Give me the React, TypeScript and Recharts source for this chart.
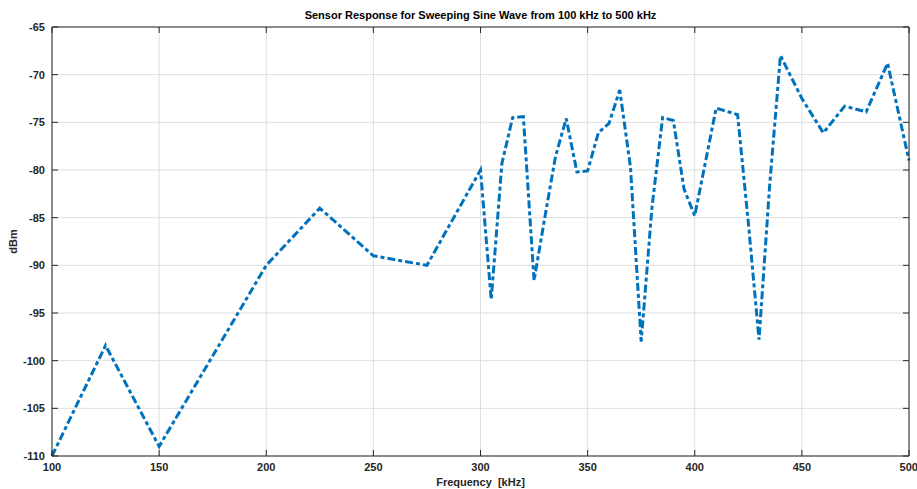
import React from 'react';
import { LineChart, Line, XAxis, YAxis, CartesianGrid, Label } from 'recharts';

// sweep frequencies (kHz) and measured response (dBm)
const frequencies = [
  100, 125, 150, 200, 225, 250, 275, 300, 305, 310, 315, 320, 325, 330, 335, 340, 345, 350, 355, 360,
  365, 370, 375, 380, 385, 390, 395, 400, 410, 420, 425, 430, 435, 440, 450, 460, 470, 480, 490, 500,
];
const responseDbm = [
  -110, -98.4, -109, -90, -84, -89, -90, -80, -93.6, -79.3, -74.5, -74.4, -91.6, -85, -78.6, -74.6, -80.2, -80.1, -76.1, -75.1,
  -71.6, -79.7, -98, -84, -74.5, -74.8, -82, -84.8, -73.5, -74.2, -85.5, -97.8, -81.5, -68, -72.5, -76.1, -73.3, -73.9, -68.8, -79,
];
const xTicks = [100, 150, 200, 250, 300, 350, 400, 450, 500];
const yTicks = [-110, -105, -100, -95, -90, -85, -80, -75, -70, -65];

const data = frequencies.map((f, i) => ({ freq: f, dbm: responseDbm[i] }));

const FONT = '"Liberation Sans", Arial, Helvetica, sans-serif';
const AXIS = '#262626';
const tickStyle = { fontSize: 11, fontWeight: 700, fill: AXIS, fontFamily: FONT };
// tick={false} would also drop the tick lines, so the box axes get an empty label instead
const NoLabel = () => <g />;

const App: React.FC = () => {
  return (
    <div style={{ position: 'absolute', left: 0, top: 0, width: 917, height: 489, background: '#fff' }}>
      <div
        style={{
          position: 'absolute',
          left: 52,
          width: 857,
          top: 9,
          textAlign: 'center',
          fontFamily: FONT,
          fontWeight: 700,
          fontSize: 11,
          color: '#000',
        }}
      >
        Sensor Response for Sweeping Sine Wave from 100 kHz to 500 kHz
      </div>
      <LineChart width={917} height={489} data={data} margin={{ top: 27, right: 8, bottom: 0, left: 0 }}>
        <CartesianGrid stroke="#dedede" strokeWidth={1} />
        {/* inward tick marks + box, MATLAB style */}
        <XAxis
          xAxisId="bottomTicks"
          dataKey="freq"
          type="number"
          domain={[100, 500]}
          ticks={xTicks}
          orientation="bottom"
          mirror
          height={1}
          tick={NoLabel}
          tickSize={6}
          axisLine={false}
          tickLine={{ stroke: AXIS }}
        />
        <XAxis
          xAxisId="top"
          dataKey="freq"
          type="number"
          domain={[100, 500]}
          ticks={xTicks}
          orientation="top"
          mirror
          height={1}
          tick={NoLabel}
          tickSize={6}
          axisLine={{ stroke: AXIS }}
          tickLine={{ stroke: AXIS }}
        />
        <XAxis
          dataKey="freq"
          type="number"
          domain={[100, 500]}
          ticks={xTicks}
          height={33}
          tickLine={false}
          tickSize={0}
          tickMargin={7}
          tick={tickStyle}
          axisLine={{ stroke: AXIS }}
        >
          <Label
            content={({ viewBox }: any) => (
              <text
                x={viewBox.x + viewBox.width / 2}
                y={viewBox.y + 30}
                textAnchor="middle"
                style={{ fontSize: 11, fontWeight: 700, fontFamily: FONT, fill: AXIS, whiteSpace: 'pre' }}
              >
                Frequency  [kHz]
              </text>
            )}
          />
        </XAxis>
        <YAxis
          yAxisId="leftTicks"
          type="number"
          domain={[-110, -65]}
          ticks={yTicks}
          orientation="left"
          mirror
          width={1}
          tick={NoLabel}
          tickSize={6}
          axisLine={false}
          tickLine={{ stroke: AXIS }}
        />
        <YAxis
          yAxisId="right"
          type="number"
          domain={[-110, -65]}
          ticks={yTicks}
          orientation="right"
          mirror
          width={1}
          tick={NoLabel}
          tickSize={6}
          axisLine={{ stroke: AXIS }}
          tickLine={{ stroke: AXIS }}
        />
        <YAxis
          type="number"
          domain={[-110, -65]}
          ticks={yTicks}
          width={52}
          tickLine={false}
          tickSize={0}
          tickMargin={7}
          tick={tickStyle}
          axisLine={{ stroke: AXIS }}
        >
          <Label
            content={({ viewBox }: any) => {
              const x = viewBox.x + 17;
              const y = viewBox.y + viewBox.height / 2;
              return (
                <text
                  x={x}
                  y={y}
                  textAnchor="middle"
                  transform={`rotate(-90, ${x}, ${y})`}
                  style={{ fontSize: 11, fontWeight: 700, fontFamily: FONT, fill: AXIS }}
                >
                  dBm
                </text>
              );
            }}
          />
        </YAxis>
        {/* invisible series so the tick-only axes get registered */}
        <Line
          xAxisId="bottomTicks"
          yAxisId="leftTicks"
          dataKey="dbm"
          stroke="none"
          dot={false}
          activeDot={false}
          isAnimationActive={false}
        />
        <Line
          xAxisId="top"
          yAxisId="right"
          dataKey="dbm"
          stroke="none"
          dot={false}
          activeDot={false}
          isAnimationActive={false}
        />
        <Line
          type="linear"
          dataKey="dbm"
          stroke="#0072BD"
          strokeWidth={3}
          strokeDasharray="8 3 4 3"
          dot={false}
          activeDot={false}
          isAnimationActive={false}
        />
      </LineChart>
    </div>
  );
};

export default App;
